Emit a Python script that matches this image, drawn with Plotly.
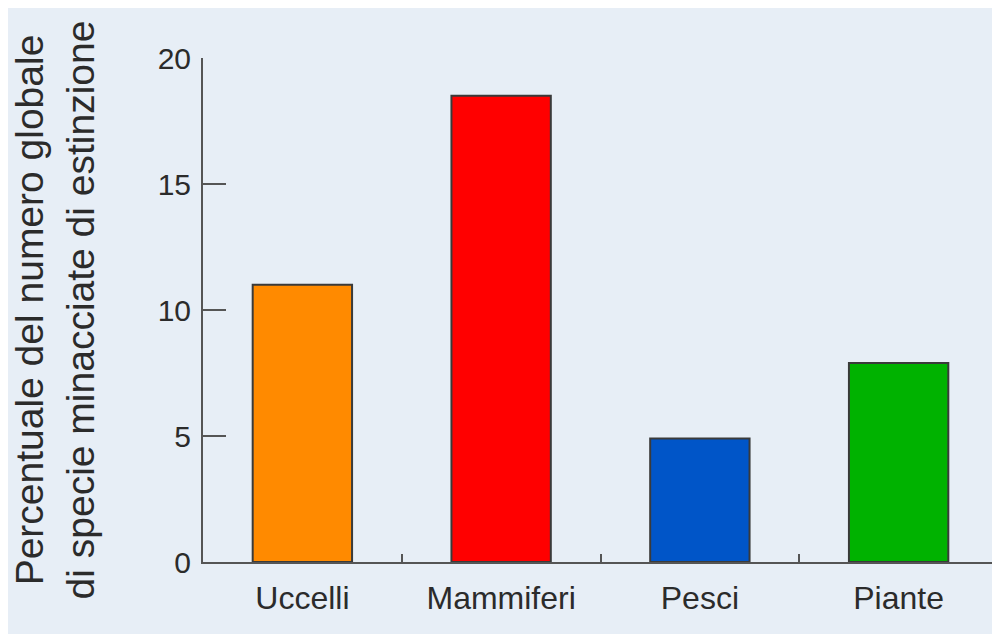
import plotly.graph_objects as go

categories = ["Uccelli", "Mammiferi", "Pesci", "Piante"]
values = [11.0, 18.5, 4.9, 7.9]
bar_colors = ["#ff8a00", "#ff0000", "#0055c8", "#00b200"]
y_ticks = [0, 5, 10, 15, 20]
y_title = "Percentuale del numero globale<br>di specie minacciate di estinzione"

bg = "#e7eef6"
axis_col = "#555555"
text_col = "#2b2b2b"

fig = go.Figure(
    go.Bar(
        x=categories,
        y=values,
        width=0.5,
        marker=dict(color=bar_colors, line=dict(color="#3a3a3a", width=2)),
    )
)

fig.update_layout(
    width=1000,
    height=634,
    paper_bgcolor=bg,
    plot_bgcolor=bg,
    margin=dict(l=195, r=10, t=50, b=80, autoexpand=False),
    showlegend=False,
    font=dict(family="Liberation Sans, Arial, sans-serif", color=text_col),
)

fig.update_xaxes(
    type="category",
    range=[-0.5, 3.5],
    showline=True,
    linecolor=axis_col,
    linewidth=2,
    ticks="inside",
    tickson="boundaries",
    ticklen=8,
    tickwidth=2,
    tickcolor=axis_col,
    tickfont=dict(size=32, color=text_col),
    ticklabelstandoff=7,
    showgrid=False,
    zeroline=False,
)

fig.update_yaxes(
    range=[0, 20],
    tickvals=y_ticks,
    showline=True,
    linecolor=axis_col,
    linewidth=2,
    ticks="inside",
    ticklen=23,
    tickwidth=2,
    tickcolor=axis_col,
    tickfont=dict(size=30, color=text_col),
    ticklabelstandoff=4,
    showgrid=False,
    zeroline=False,
    title=dict(text=y_title, font=dict(size=39, color=text_col), standoff=60),
)

fig.write_html("out.html")
